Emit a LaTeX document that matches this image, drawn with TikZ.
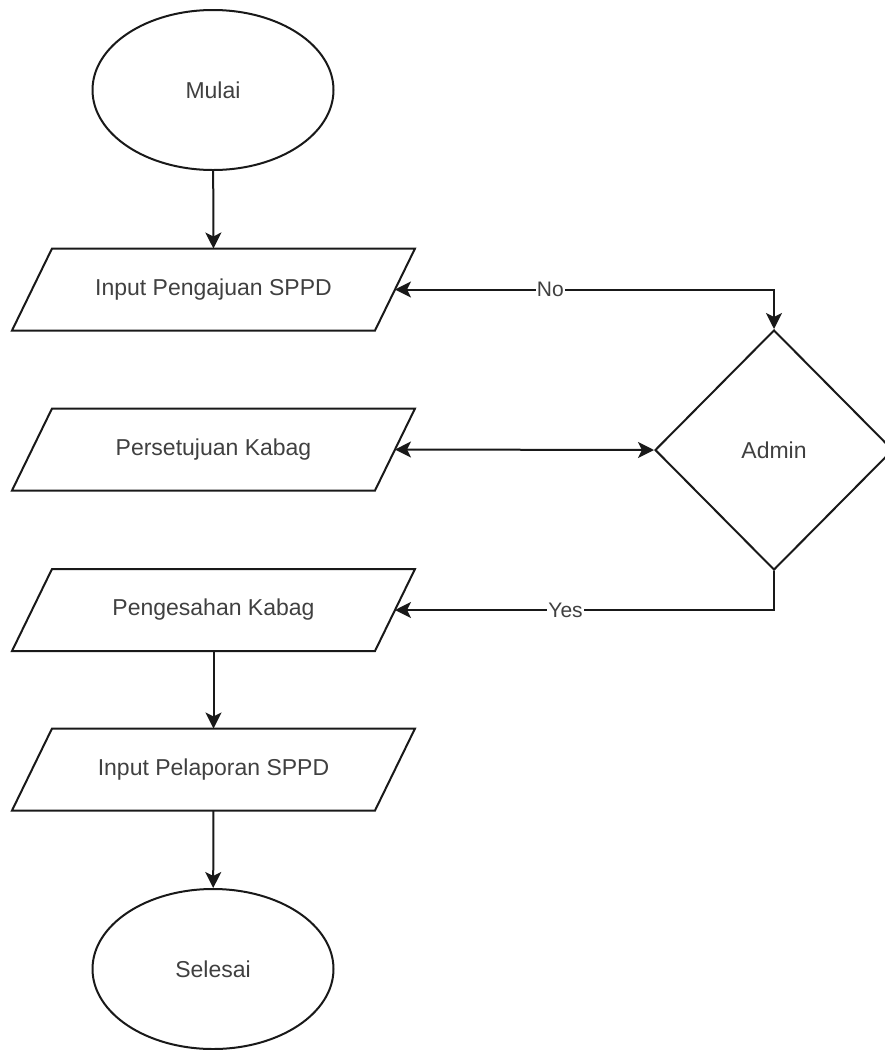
\documentclass[tikz,border=0pt]{standalone}
\usepackage{fontspec}
\setmainfont{Liberation Sans}
\usetikzlibrary{shapes.geometric,arrows.meta}
\tikzset{
  base/.style={draw=black!90, line width=2pt, text=black!75, inner sep=0pt,
    font=\fontsize{23}{27}\selectfont},
  term/.style={base, ellipse, minimum width=241pt, minimum height=160pt},
  io/.style={base, draw=none, rectangle, minimum width=361pt, minimum height=80pt},
  ioframe/.style={draw=black!90, line width=2pt, line join=miter},
  decide/.style={base, diamond, minimum width=238pt, minimum height=240pt},
  conn/.style={draw=black!90, line width=2pt},
  tip/.style={-{Stealth[length=16pt,width=16pt,inset=4pt]}},
  bitip/.style={{Stealth[length=16pt,width=16pt,inset=4pt]}-{Stealth[length=16pt,width=16pt,inset=4pt]}},
  lbl/.style={fill=white, text=black!75, inner sep=1pt, font=\fontsize{21}{25}\selectfont}
}
\begin{document}
\begin{tikzpicture}[x=1pt,y=1pt]
\useasboundingbox (0,0) rectangle (884,-1050);
\node[term] (mulai) at (213,-90) {Mulai};
\node[io] (p1) at (213.5,-289.5) {Input Pengajuan SPPD};
\node[io] (p2) at (213.5,-449.5) {Persetujuan Kabag};
\node[io] (p3) at (213.5,-610) {Pengesahan Kabag};
\node[io] (p4) at (213.5,-769.5) {Input Pelaporan SPPD};
\node[term] (selesai) at (213,-969) {Selesai};
\node[decide] (admin) at (774,-450) {Admin};

\foreach \n in {p1,p2,p3,p4}
  \draw[ioframe] ([xshift=20pt]\n.north west) -- ([xshift=20pt]\n.north east)
    -- ([xshift=-20pt]\n.south east) -- ([xshift=-20pt]\n.south west) -- cycle;

\draw[conn,tip] (mulai) -- (p1);
\draw[conn,bitip] (admin.north) |- node[lbl, pos=0.795] {No} (p1.east);
\draw[conn,bitip] (p2.east) -- (admin.west);
\draw[conn,tip] (admin.south) |- node[lbl, pos=0.775] {Yes} (p3.east);
\draw[conn,tip] (p3) -- (p4);
\draw[conn,tip] (p4) -- (selesai);
\end{tikzpicture}
\end{document}
